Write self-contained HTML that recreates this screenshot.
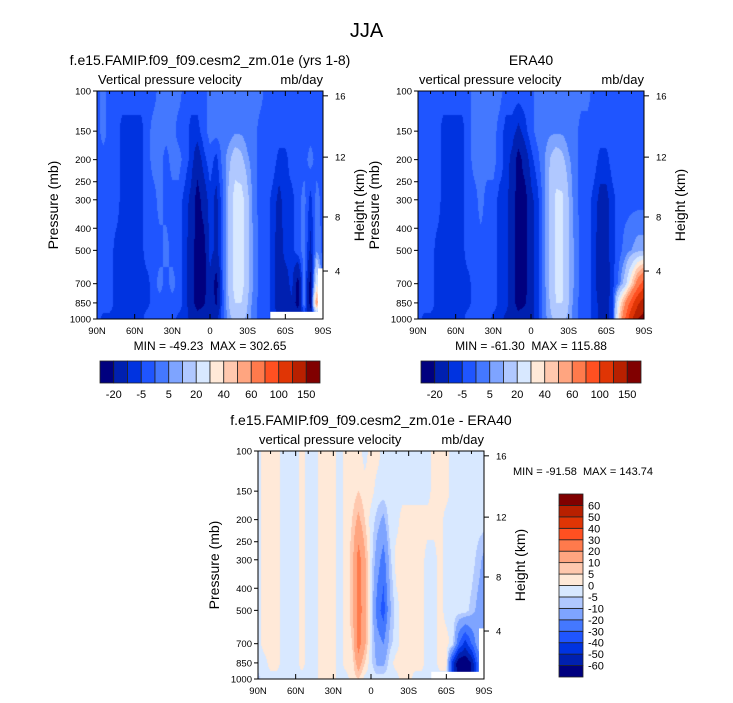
<!DOCTYPE html>
<html><head><meta charset="utf-8">
<style>
body{margin:0;background:#fff;font-family:"Liberation Sans",sans-serif;}
#root{position:relative;width:733px;height:703px;overflow:hidden;background:#fff;}
.t{position:absolute;white-space:nowrap;color:#000;}
canvas{position:absolute;}
svg{position:absolute;left:0;top:0;}
svg text{white-space:pre;}
</style></head>
<body><div id="root">
<div class="t" style="left:0;width:733px;text-align:center;top:20px;font-size:20px;">JJA</div>
<svg id="ov" width="733" height="703"></svg>
</div>
<script>
const LEVELS=[100,150,200,300,500,700,850,1000];
const LATS=[90,85,80,75,70,65,60,55,50,45,40,35,30,25,20,15,10,5,0,-5,-10,-15,-20,-25,-30,-35,-40,-45,-50,-55,-60,-65,-70,-75,-80,-85,-90];
const MODEL_ROWS=[
[-2,2,-2,-2,-2,-2,-2,-2,-2,-2,2,2,2,2,-2,-2,-2,-2,2,2,2,2,2,2,2,2,2,-2,-2,-2,-2,-2,-2,-2,-2,-2,-2],
[-2,2,-2,-2,-7,-7,-7,-7,-2,2,2,2,2,-2,-2,-7,-7,-2,2,2,2,2,4,4,2,2,-2,-2,-2,-2,-2,-2,-2,-2,-2,-2,-2],
[-2,-2,-2,-2,-7,-7,-7,-7,-2,2,2,-2,2,2,-2,-7,-15,-7,-2,-7,2,8,15,12,6,2,-2,-2,-2,-7,-7,-2,-2,-2,2,-2,-2],
[-2,-2,-2,-2,-7,-7,-7,-7,-2,-2,2,-2,-2,-2,-7,-12,-25,-15,-7,-12,-2,12,25,25,12,2,-2,-2,-7,-12,-7,-7,-2,2,-7,2,-2],
[-2,-2,-2,-7,-7,-7,-7,-7,-2,-2,-2,2,-2,-2,-7,-15,-25,-25,-7,-12,-2,12,25,25,12,4,-2,-2,-7,-15,-7,-7,-2,2,-12,4,-2],
[-2,-2,-2,-7,-7,-7,-7,-7,-7,-2,2,-2,2,-2,-7,-15,-25,-25,-12,-25,-2,12,25,25,12,4,-2,-2,-7,-15,-15,-7,-25,5,-25,30,-2],
[-2,-2,-2,-7,-7,-7,-7,-7,-7,-2,-2,-2,-2,-2,-7,-15,-25,-22,-12,-22,-2,10,20,20,10,2,-2,-2,-7,-15,-15,-12,-25,5,-25,60,-2],
[-2,-7,-7,-7,-7,-7,-7,-7,-2,-2,-2,-2,-2,-7,-7,-12,-15,-12,-12,-12,-2,8,12,12,8,2,-2,-2,-7,-12,-12,-12,-12,-12,-12,-12,-12]];
const ERA_ROWS=[
[-2,-2,-2,-2,-2,-2,-2,-2,-2,2,2,2,2,2,-2,-2,-2,-2,-2,2,2,2,2,2,2,2,2,2,-2,-2,-2,-2,-2,-2,-2,-2,-2],
[-2,-2,-2,-2,-7,-7,-7,-7,-2,2,2,2,2,-2,-7,-7,-12,-7,-2,2,2,4,4,4,2,2,-2,-2,-2,-2,-2,-2,-2,-2,-2,-2,-2],
[-2,-2,-2,-2,-7,-7,-7,-7,-2,2,2,2,2,-2,-7,-12,-25,-15,-7,-2,4,10,15,12,6,2,-2,-2,-2,-7,-7,-2,-2,-2,-2,-2,-2],
[-2,-2,-2,-2,-7,-7,-7,-7,-2,-2,2,-2,-2,-7,-7,-15,-25,-25,-12,-7,2,12,22,22,10,2,-2,-2,-7,-12,-12,-7,-2,-2,-2,-2,-2],
[-2,-2,-2,-7,-7,-7,-7,-7,-2,-2,-2,-2,-2,-7,-7,-15,-25,-25,-12,-7,2,12,22,22,10,4,-2,-2,-7,-15,-12,-7,-2,2,5,8,8],
[-2,-2,-2,-7,-7,-7,-7,-7,-7,-2,-2,-2,-2,-7,-7,-15,-25,-25,-12,-7,2,12,22,22,10,4,-2,-2,-7,-15,-15,-7,2,15,40,70,90],
[-2,-2,-2,-7,-7,-7,-7,-7,-7,-2,-2,-2,-2,-7,-7,-15,-25,-22,-12,-7,2,10,20,20,10,2,-2,-2,-7,-12,-12,-7,30,60,90,120,140],
[-2,-7,-7,-7,-7,-7,-7,-7,-2,-2,-2,-2,-7,-7,-12,-15,-15,-12,-12,-7,2,8,12,12,8,2,-2,-2,-7,-12,-12,-7,40,80,120,150,160]];
const DIFF_ROWS=[
[-2,2,2,2,-2,-2,-2,2,-2,-2,2,2,2,-2,2,2,2,-2,2,2,-2,-2,-2,-2,-2,-2,-2,-2,2,2,2,-2,-2,-2,-2,-2,-2],
[-2,2,2,2,-2,-2,-2,2,-2,-2,2,2,2,-2,2,2,5,2,2,-2,-2,-2,-2,-2,-2,-2,-2,-2,2,2,2,-2,-2,-2,-2,-2,-2],
[-2,2,2,2,-2,-2,-2,2,-2,-2,2,2,2,-2,2,5,12,5,-2,-7,-12,-2,-2,2,2,2,2,2,2,2,-2,-2,-2,-2,-2,-2,-2],
[-2,2,2,2,-2,-2,-2,2,-2,-2,2,2,2,-2,2,7,25,12,-2,-15,-25,-7,2,2,2,2,2,-2,-2,2,-2,-2,-2,-2,-2,-7,-12],
[-2,2,2,2,-2,-2,-2,2,-2,-2,2,2,2,-2,2,7,25,15,-3,-25,-35,-12,-2,2,2,2,2,-2,-2,2,-2,-2,-2,-2,-7,-12,-15],
[-2,2,2,2,-2,-2,-2,2,-2,-2,2,2,2,-2,2,5,25,12,-3,-15,-20,-7,-2,2,2,2,2,-2,-2,2,2,-2,-30,-45,-30,-15,-15],
[-2,-2,2,2,-2,-2,-2,2,-2,-2,2,2,2,-2,2,2,15,5,-3,-12,-12,-2,2,2,2,2,2,-2,-2,2,2,-45,-70,-70,-60,-30,-15],
[-7,-2,-2,-2,-2,-2,-2,-2,-2,-2,2,2,2,-2,-2,2,5,-2,-2,-2,-2,-2,-2,2,2,-2,-2,-2,-2,-2,-2,-40,-70,-70,-60,-30,-15]];
const BOUNDS_FULL=[-20,-10,-5,0,5,10,20,30,40,50,60,80,100,125,150];
const LABELS_FULL=['-20','-5','5','20','40','60','100','150'];
const BOUNDS_DIFF=[-60,-50,-40,-30,-20,-10,-5,0,5,10,20,30,40,50,60];
const HEIGHT_TICKS=[16,12,8,4];
const HEIGHT_TICK_P=[105,195,357,616];
const P_TICKS=[100,150,200,250,300,400,500,700,850,1000];
const LAT_TICKS=[90,60,30,0,-30,-60,-90];
const LAT_LABELS=['90N','60N','30N','0','30S','60S','90S'];
const MASK_MODEL=[[-48,-90,930],[-86,-90,600]];
const COLORS=['#00007f','#0020b0','#0033e0','#1f55ff','#4478ff','#7ea4ff','#b0c8ff','#d8e8ff','#ffe9d8','#ffc8ae','#ffa580','#ff7a4c','#ff5021','#e03505','#b82000','#800000'];

const root=document.getElementById('root');
const ov=document.getElementById('ov');
const NS='http://www.w3.org/2000/svg';
function svgEl(tag,attrs){const e=document.createElementNS(NS,tag);for(const k in attrs)e.setAttribute(k,attrs[k]);ov.appendChild(e);return e;}
function txt(s,x,y,size,anchor,name,rot){
  const e=document.createElementNS(NS,'text');
  e.setAttribute('x',x);e.setAttribute('y',y);e.setAttribute('font-size',size);
  e.setAttribute('text-anchor',anchor||'start');e.setAttribute('font-family','Liberation Sans, sans-serif');
  e.setAttributeNS('http://www.w3.org/XML/1998/namespace','xml:space','preserve');
  if(rot)e.setAttribute('transform','rotate(-90 '+x+' '+y+')');
  
  
  e.textContent=s;ov.appendChild(e);return e;
}
function hexToRgb(h){return [parseInt(h.slice(1,3),16),parseInt(h.slice(3,5),16),parseInt(h.slice(5,7),16)];}
const RGB=COLORS.map(hexToRgb);
function binOf(v,b){let i=0;while(i<b.length&&v>=b[i])i++;return i;}
function sample(rows,lat,p){
  let fi=(90-lat)/5;fi=Math.max(0,Math.min(LATS.length-1,fi));
  const i0=Math.min(LATS.length-2,Math.floor(fi)),fx=fi-i0;
  const lp=Math.log(p);let j0=0;
  while(j0<LEVELS.length-2&&Math.log(LEVELS[j0+1])<lp)j0++;
  let fy=(lp-Math.log(LEVELS[j0]))/(Math.log(LEVELS[j0+1])-Math.log(LEVELS[j0]));fy=Math.max(0,Math.min(1,fy));
  const a=rows[j0][i0]*(1-fx)+rows[j0][i0+1]*fx,b=rows[j0+1][i0]*(1-fx)+rows[j0+1][i0+1]*fx;
  return a*(1-fy)+b*fy;
}
function panel(o){
  const X0=o.x,Y0=o.y,W=226,H=228;
  const xs=lat=>X0+(90-lat)/180*W;
  const ys=p=>Y0+H-(Math.log10(1000/p))*H;
  const cv=document.createElement('canvas');cv.width=W;cv.height=H;
  cv.style.left=X0+'px';cv.style.top=Y0+'px';
  
  
  root.insertBefore(cv,ov);
  const ctx=cv.getContext('2d');const img=ctx.createImageData(W,H);
  for(let py=0;py<H;py++){const p=1000/Math.pow(10,(H-py-0.5)/H);
    for(let px=0;px<W;px++){const lat=90-(px+0.5)/W*180;
      const c=RGB[binOf(sample(o.rows,lat,p),o.bounds)];const k=(py*W+px)*4;
      img.data[k]=c[0];img.data[k+1]=c[1];img.data[k+2]=c[2];img.data[k+3]=255;}}
  ctx.putImageData(img,0,0);
  (o.mask||[]).forEach(m=>{
    const r=svgEl('rect',{x:xs(m[0]),y:ys(m[2]),width:xs(m[1])-xs(m[0]),height:Y0+H-ys(m[2]),fill:'#fff'});
    
    
  });
  const f=svgEl('rect',{x:X0,y:Y0,width:W,height:H,fill:'none',stroke:'#000','stroke-width':1});
  
  
  P_TICKS.forEach(p=>{svgEl('line',{x1:X0-4,x2:X0,y1:ys(p),y2:ys(p),stroke:'#000'});
    txt(String(p),X0-6,ys(p)+3.5,9.5,'end','y-tick-label');});
  HEIGHT_TICK_P.forEach((p,i)=>{svgEl('line',{x1:X0+W,x2:X0+W+5,y1:ys(p),y2:ys(p),stroke:'#000'});
    txt(String(HEIGHT_TICKS[i]),X0+W+12,ys(p)+3.5,9.5,'start','height-tick-label');});
  LAT_TICKS.forEach((l,i)=>{svgEl('line',{x1:xs(l),x2:xs(l),y1:Y0+H,y2:Y0+H-5,stroke:'#000'});
    svgEl('line',{x1:xs(l),x2:xs(l),y1:Y0,y2:Y0+5,stroke:'#000'});
    txt(LAT_LABELS[i],xs(l),Y0+H+15,9.5,'middle','x-tick-label');});
  for(let l=80;l>-90;l-=10){if(l%30)svgEl('line',{x1:xs(l),x2:xs(l),y1:Y0,y2:Y0+3,stroke:'#000'});}
  txt(o.title,X0+W/2,Y0-26,14,'middle',o.name+'-title');
  txt(o.sub,X0+1,Y0-7,13,'start',o.name+'-subtitle');
  txt('mb/day',X0+W,Y0-7,13,'end',o.name+'-units');
  txt('Pressure (mb)',X0-39,Y0+H/2,14,'middle','y-axis-title',true);
  txt('Height (km)',X0+W+41,Y0+H/2,14,'middle','right-axis-title',true);
}
function hbar(x,y,w,h){
  const n=COLORS.length,bw=w/n;
  for(let i=0;i<n;i++){const r=svgEl('rect',{x:x+i*bw,y:y,width:bw,height:h,fill:COLORS[i],stroke:'#222','stroke-width':0.8});
    
    }
  LABELS_FULL.forEach((s,k)=>txt(s,x+(2*k+1)*bw,y+h+15,11,'middle','colorbar-label'));
}
panel({x:97,y:91,rows:MODEL_ROWS,bounds:BOUNDS_FULL,mask:MASK_MODEL,name:'model-panel',
  title:'f.e15.FAMIP.f09_f09.cesm2_zm.01e (yrs 1-8)',sub:'Vertical pressure velocity'});
panel({x:418,y:91,rows:ERA_ROWS,bounds:BOUNDS_FULL,name:'era40-panel',title:'ERA40',sub:'vertical pressure velocity'});
panel({x:258,y:451,rows:DIFF_ROWS,bounds:BOUNDS_DIFF,mask:MASK_MODEL,name:'diff-panel',
  title:'f.e15.FAMIP.f09_f09.cesm2_zm.01e - ERA40',sub:'vertical pressure velocity'});
txt('MIN = -49.23  MAX = 302.65',210,350,12,'middle','model-min-max');
txt('MIN = -61.30  MAX = 115.88',531,350,12,'middle','era40-min-max');
txt('MIN = -91.58  MAX = 143.74',513,475,11,'start','diff-min-max');
hbar(100,361,220,22);
hbar(421,361,220,22);
(function(){const x=559,y=494,w=24,h=183,n=COLORS.length,bh=h/n;
  for(let i=0;i<n;i++){const r=svgEl('rect',{x:x,y:y+h-(i+1)*bh,width:w,height:bh,fill:COLORS[i],stroke:'#222','stroke-width':0.8});
    
    }
  BOUNDS_DIFF.forEach((b,k)=>txt(String(b),x+w+5,y+h-(k+1)*bh+4,11,'start','diff-colorbar-label'));
})();
</script>
</body></html>
